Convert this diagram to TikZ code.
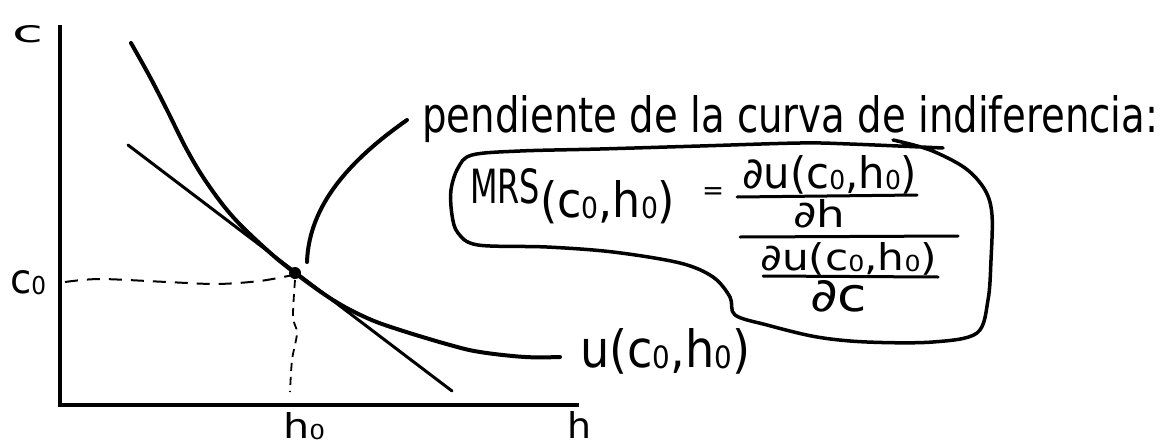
\documentclass[tikz,border=0pt]{standalone}
\usepackage{fontspec}
\setmainfont{DejaVu Sans}
\usepackage{graphicx}
\newcommand{\zs}{\raisebox{-1pt}{\scalebox{0.6}{0}}}
\begin{document}
\begin{tikzpicture}[x=1pt,y=-1pt,
  axis/.style={line width=3.5pt},
  curvestroke/.style={line width=4pt, line cap=round, line join=round},
  tangline/.style={line width=3pt, line cap=round},
  hguide/.style={line width=2pt, dash pattern=on 13pt off 9pt},
  vguide/.style={line width=1.8pt, dash pattern=on 8pt off 6pt},
  bubble/.style={line width=3.5pt, line cap=round, line join=round},
  bar/.style={line width=3pt, line cap=round},
  lab/.style={inner sep=0pt, anchor=base west, font=\fontsize{30}{36}\selectfont}]
\useasboundingbox (0,0) rectangle (1162,447);
% axes
\coordinate (Ytop) at (60,25);
\coordinate (O) at (60,405);
\coordinate (Xend) at (579,405);
\draw[axis] (Ytop) -- (O) -- (Xend);
% indifference curve
\draw[curvestroke] plot[smooth, tension=0.6] coordinates {(131,43) (150,77) (167,110) (187,150) (207,183) (233,217) (267,250) (295,273) (333,300) (367,318) (400,330) (450,345) (480,352) (525,357) (560,357)};
% tangent line
\coordinate (T1) at (128,145);
\coordinate (T2) at (452,391);
\draw[tangline] (T1) -- (T2);
% point and guides
\node[circle, fill, inner sep=0pt, minimum size=12pt] (pt) at (295,273) {};
\draw[hguide] plot[smooth] coordinates {(65,282) (100,279) (167,282) (217,284) (260,281) (293,275)};
\draw[vguide] plot[smooth] coordinates {(295,280) (293,317) (297,333) (292,360) (290,392)};
% pointer
\coordinate (ptrA) at (307,262);
\coordinate (ptrB) at (407,120);
\draw[curvestroke] (ptrA) .. controls (309,205) and (350,160) .. (ptrB);
% bubble
\draw[bubble] plot[smooth, tension=0.55] coordinates {(943,148) (850,144) (800,143) (700,146) (600,149) (520,151) (472,155) (458,168) (451,190) (452,215) (458,233) (478,245) (547,247) (613,252) (680,263) (713,277) (730,297) (735,315) (767,325) (817,337) (867,342) (933,342) (977,333) (988,300) (991,260) (992,215) (985,190) (965,168) (930,150) (893,140)};
% axis labels
\node[lab] (clab) at (12,42) {\resizebox{31pt}{17pt}{c}};
\node[lab] (hlab) at (567,438) {\resizebox{24pt}{27pt}{h}};
\node[lab] (c0) at (10,293) {\resizebox{36pt}{23pt}{c\zs}};
\node[lab] (h0) at (283,438) {\resizebox{42pt}{26pt}{h\zs}};
\node[lab] (ulab) at (580,367) {\resizebox{170pt}{39pt}{u(c\zs,h\zs)}};
% annotation
\node[lab] (pend) at (422,132) {\resizebox{736pt}{37pt}{pendiente de la curva de indiferencia:}};
\node[lab] (mrs) at (470,203) {\resizebox{70pt}{35pt}{MRS}};
\node[lab] (mrssub) at (540,217) {\resizebox{135pt}{37pt}{(c\zs,h\zs)}};
\node[inner sep=0pt] (eq) at (713,194) {\resizebox{22pt}{!}{=}};
\node[lab] (num1) at (742,188) {\resizebox{175pt}{33pt}{∂u(c\zs,h\zs)}};
\node[lab] (den1) at (793,227) {\resizebox{52pt}{28pt}{∂h}};
\node[lab] (num2) at (760,270) {\resizebox{177pt}{28pt}{∂u(c\zs,h\zs)}};
\node[lab] (den2) at (810,311) {\resizebox{57pt}{31pt}{∂c}};
% fraction bars
\coordinate (b1a) at (737,197); \coordinate (b1b) at (917,195);
\coordinate (b0a) at (740,237); \coordinate (b0b) at (958,236);
\coordinate (b2a) at (763,276); \coordinate (b2b) at (938,277);
\draw[bar] (b1a) -- (b1b);
\draw[bar] (b0a) -- (b0b);
\draw[bar] (b2a) -- (b2b);
\end{tikzpicture}
\end{document}
